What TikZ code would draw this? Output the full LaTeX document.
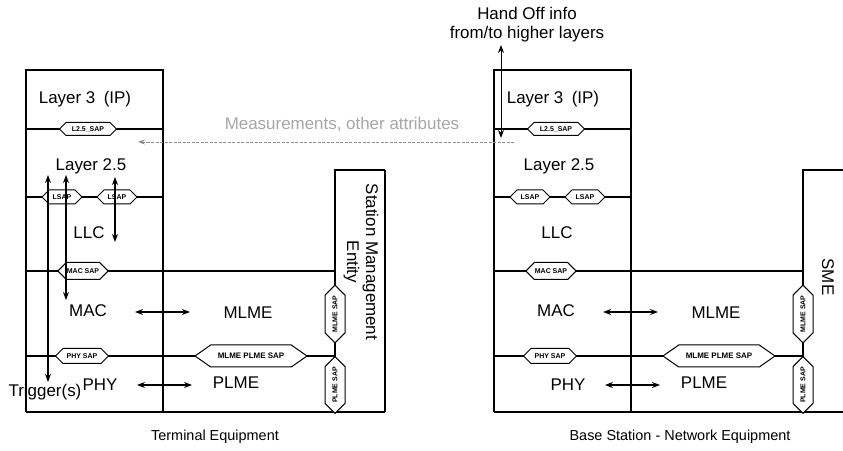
\documentclass[tikz,border=0pt]{standalone}
\usepackage{fontspec}
\setmainfont{Liberation Sans}
\usetikzlibrary{shapes.symbols,arrows.meta}
\newcommand\layerstack[3]{%
\begin{scope}[xshift=#2bp]
 \draw[box] (26,412) -- (26,70) -- (163,70) -- (163,412);
 \draw[box] (26,129) -- (163,129);
 \draw[box] (26,197) -- (163,197);
 \draw[box] (26,271) -- (335,271);
 \draw[box] (26,356) -- (335,356);
 \draw[box] (26,412) -- (#3,412);
 \draw[box] (335,412) -- (335,170) -- (#3,170);
 \node[lbl] (#1l3) at (85,99) {Layer 3\enspace(IP)};
 \node[lbl] (#1l25) at (91,166) {Layer 2.5};
 \node[lbl] (#1llc) at (89,233) {LLC};
 \node[lbl] (#1mac) at (88,311) {MAC};
 \node[lbl] (#1phy) at (100,385) {PHY};
 \node[lbl] (#1mlme) at (248,313) {MLME};
 \node[lbl] (#1plme) at (236,383) {PLME};
 \node[sap, minimum width=57bp, minimum height=13bp] (#1s25) at (88,129) {L2.5\_SAP};
 \node[sap, minimum width=40bp, minimum height=14bp] (#1lsapa) at (62,197) {LSAP};
 \node[sap, minimum width=40bp, minimum height=14bp] (#1lsapb) at (117,197) {LSAP};
 \node[sap, minimum width=50bp, minimum height=17bp] (#1macsap) at (83,271) {MAC SAP};
 \node[sap, minimum width=53bp, minimum height=15bp] (#1physap) at (82,356) {PHY SAP};
 \node[sap, minimum width=112bp, minimum height=22bp, signal pointer angle=70,
       font=\bfseries\fontsize{8}{9}\selectfont] (#1mpsap) at (251,356) {MLME PLME SAP};
 \node[sap, rotate=90, minimum width=57bp, minimum height=20bp] (#1mlsap) at (335,314) {MLME SAP};
 \node[sap, rotate=90, minimum width=55bp, minimum height=20bp] (#1plsap) at (335,385) {PLME SAP};
 \coordinate (#1ma) at (135,312); \coordinate (#1mb) at (190,312);
 \coordinate (#1pa) at (137,385); \coordinate (#1pb) at (192,385);
 \draw[dbl] (#1ma) -- (#1mb);
 \draw[dbl] (#1pa) -- (#1pb);
\end{scope}}
\begin{document}
\begin{tikzpicture}[x=1bp,y=-1bp,
  box/.style={line width=1.2bp},
  lbl/.style={font=\fontsize{17}{19}\selectfont, inner sep=0pt},
  sml/.style={font=\fontsize{14.5}{17}\selectfont, inner sep=0pt},
  sap/.style={signal, signal to=west and east, signal pointer angle=90, draw,
              line width=1bp, fill=white, inner sep=0.5pt,
              font=\bfseries\fontsize{7}{8}\selectfont},
  dbl/.style={line width=1.2bp, {Stealth[length=8bp,width=6bp]}-{Stealth[length=8bp,width=6bp]}},
]
\useasboundingbox (0,0) rectangle (843,451);
% terminal equipment
\layerstack{t}{0}{385}
\draw[box] (385,170) -- (385,412);
\node[lbl, rotate=-90, align=center] (sme) at (361,262) {Station Management\\Entity};
\node[lbl] (trig) at (45,392) {Trigger(s)};
\coordinate (t1a) at (48,175); \coordinate (t1b) at (48,382);
\coordinate (t2a) at (66,175); \coordinate (t2b) at (66,300);
\coordinate (t3a) at (115,177); \coordinate (t3b) at (115,242);
\draw[dbl] (t1a) -- (t1b);
\draw[dbl] (t2a) -- (t2b);
\draw[dbl] (t3a) -- (t3b);
\node[sml] (te) at (215,437) {Terminal Equipment};
% base station
\layerstack{b}{468}{375}
\node[lbl, rotate=-90] (bsme) at (828,277) {SME};
\node[lbl, align=center] (hand) at (527,25) {Hand Off info\\from/to higher layers};
\coordinate (ha) at (501,45); \coordinate (hb) at (501,138);
\draw[dbl, line width=1bp] (ha) -- (hb);
\node[sml] (bs) at (680,437) {Base Station - Network Equipment};
% measurements
\node[lbl, text=black!35] (meas) at (342,124) {Measurements, other attributes};
\coordinate (ms) at (514,142); \coordinate (me) at (138,142);
\draw[black!45, line width=0.9bp, dash pattern=on 3bp off 1.5bp, -{Stealth[length=7bp,width=5bp]}] (ms) -- (me);
\end{tikzpicture}
\end{document}
